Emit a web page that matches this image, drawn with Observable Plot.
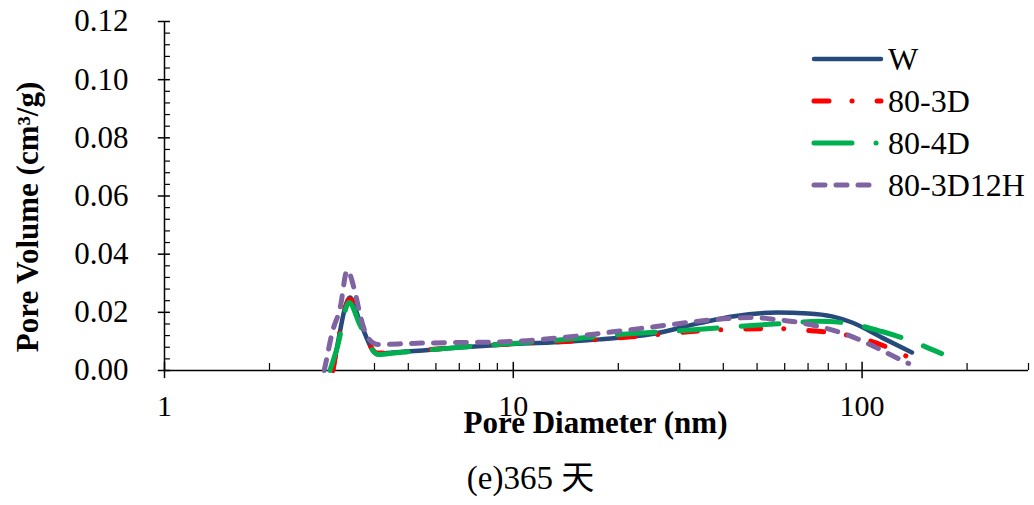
<!DOCTYPE html>
<html><head><meta charset="utf-8">
<script src="https://cdn.jsdelivr.net/npm/d3@7"></script>
<script src="https://cdn.jsdelivr.net/npm/@observablehq/plot@0.6"></script>
<style>
html,body{margin:0;padding:0;background:#fff;}
#chart{position:relative;width:1034px;height:505px;}
</style></head><body><div id="chart"></div>
<script>
// ---- data ----
const seriesNames = ["W", "80-3D", "80-4D", "80-3D12H"];
const seriesColors = ["#264A7C", "#FF0000", "#00B050", "#8064A2"];

const diamW = [3.04, 3.13, 3.40, 3.64, 4.07, 4.52, 5.5, 6.8, 10, 14.2, 17.7, 25, 34.2, 42.5, 57, 70, 82, 93.6, 114, 139];
const volW  = [0, 0.0086, 0.0251, 0.0165, 0.0058, 0.0062, 0.0069, 0.0078, 0.0091, 0.0099, 0.0107, 0.0125, 0.0163, 0.0186, 0.0199, 0.0196, 0.0186, 0.0165, 0.0113, 0.0062];

const diam3D = [3.04, 3.13, 3.40, 3.64, 4.07, 4.52, 6.8, 10.2, 15.7, 23, 38.5, 57, 69.6, 84.3, 104.7, 127.6, 136];
const vol3D  = [0, 0.0086, 0.0245, 0.0165, 0.0060, 0.0062, 0.0079, 0.0093, 0.0103, 0.0118, 0.0140, 0.0144, 0.0138, 0.0128, 0.0103, 0.0062, 0.0045];

const diam4D = [2.98, 3.13, 3.38, 3.64, 4.10, 4.73, 8.18, 13, 22, 31.4, 48.4, 60.6, 75.4, 87.7, 114, 132, 169];
const vol4D  = [0, 0.0080, 0.0234, 0.0155, 0.0055, 0.0062, 0.0086, 0.0103, 0.0127, 0.0138, 0.0155, 0.0162, 0.0169, 0.0165, 0.0134, 0.0110, 0.0058];

const diam3D12H = [2.87, 2.91, 3.02, 3.19, 3.34, 3.52, 3.64, 3.83, 4.10, 5.06, 10, 14.8, 23, 41.6, 48.4, 56.8, 66.1, 77, 90, 102.6, 117, 136];
const vol3D12H  = [0, 0.0034, 0.0127, 0.0217, 0.0344, 0.0268, 0.019, 0.0113, 0.0089, 0.0093, 0.0100, 0.0117, 0.0144, 0.0179, 0.0182, 0.0175, 0.0165, 0.0148, 0.0124, 0.0096, 0.0062, 0.0024];

const xMajorTicks = [1, 10, 100];
const xMajorLabels = ["1", "10", "100"];
const xMinorTicks = [2, 3, 4, 5, 6, 7, 8, 9, 20, 30, 40, 50, 60, 70, 80, 90, 200, 300];
const yMajorTicks = [0, 0.02, 0.04, 0.06, 0.08, 0.10, 0.12];
const yMinorTicks = [0.004, 0.008, 0.012, 0.016, 0.024, 0.028, 0.032, 0.036, 0.044, 0.048, 0.052, 0.056,
                     0.064, 0.068, 0.072, 0.076, 0.084, 0.088, 0.092, 0.096, 0.104, 0.108, 0.112, 0.116];

const xTitle = "Pore Diameter (nm)";
const yTitle = "Pore Volume (cm\u00B3/g)";
const caption = "(e)365 天";

// ---- build tables ----
const diams = [diamW, diam3D, diam4D, diam3D12H];
const vols = [volW, vol3D, vol4D, vol3D12H];
const tables = diams.map((ds, i) => ds.map((d, j) => ({series: seriesNames[i], d, v: vols[i][j]})));

const dashes = [null, "15,23,0.1,25", "38,24", "11,11"];
const legendDashes = [null, "15,23,0.1,25", "38,24,0.1,100", "11,11"];
const legendEnds = [881, 881, 881, 869];
const widths = [4.5, 5, 5, 5];

const serif = "'Liberation Serif', 'Times New Roman', 'Noto Sans CJK TC', serif";

const lineMarks = tables.map((t, i) => Plot.line(t, {
  x: "d", y: "v", stroke: seriesColors[i], strokeWidth: widths[i],
  strokeDasharray: dashes[i], strokeLinecap: "round", strokeLinejoin: "round",
  curve: "monotone-x"
}));

const chart = Plot.plot({
  width: 1034,
  height: 505,
  marginLeft: 164,
  marginRight: 6,
  marginTop: 21,
  marginBottom: 135,
  style: {fontFamily: serif, background: "#fff", color: "#000"},
  x: {type: "log", domain: [1, 300], axis: null},
  y: {domain: [0, 0.12], axis: null},
  marks: [
    // axis lines
    Plot.ruleX([1], {y1: 0, y2: 0.12, stroke: "#000", strokeWidth: 1.5}),
    Plot.ruleY([0], {x1: 1, x2: 300, stroke: "#000", strokeWidth: 1.5}),
    // y ticks
    Plot.ruleY(yMajorTicks, {y: d => d, x1: 0.96, x2: 1.04, stroke: "#000", strokeWidth: 1.5}),
    Plot.ruleY(yMinorTicks, {y: d => d, x1: 1, x2: 1.04, stroke: "#000", strokeWidth: 1.2}),
    // x ticks
    Plot.ruleX(xMajorTicks, {x: d => d, y1: -0.0028, y2: 0.0028, stroke: "#000", strokeWidth: 1.5}),
    Plot.ruleX(xMinorTicks, {x: d => d, y1: 0, y2: 0.0024, stroke: "#000", strokeWidth: 1.2}),
    // tick labels
    Plot.text(yMajorTicks, {x: 1, y: d => d, text: d => d.toFixed(2), textAnchor: "end", dx: -36, fontSize: 31, fill: "#000"}),
    Plot.text(xMajorTicks, {x: d => d, y: 0, text: (d, i) => xMajorLabels[i], dy: 36, fontSize: 30, fill: "#000"}),
    // series
    ...lineMarks,
    // titles
    Plot.text([xTitle], {frameAnchor: "bottom", lineAnchor: "middle", text: d => d, dy: 53, dx: -1, fontSize: 31, fontWeight: "bold", fill: "#000"}),
    Plot.text([caption], {frameAnchor: "bottom", lineAnchor: "middle", text: d => d, dy: 108, dx: -66, fontSize: 33, fill: "#000"})
  ]
});

const svg = d3.select(chart);

// ---- y-axis title ----
svg.append("text")
  .attr("transform", "translate(27,217) rotate(-90)")
  .attr("text-anchor", "middle")
  .attr("dy", "0.35em")
  .attr("font-family", serif)
  .attr("font-size", 31)
  .attr("font-weight", "bold")
  .attr("fill", "#000")
  .text(yTitle);

// ---- legend ----
const lg = svg.append("g").attr("font-family", serif).attr("font-size", 32).attr("text-anchor", "start");
const legendY = [59, 101, 143, 185];
seriesNames.forEach((name, i) => {
  lg.append("line").attr("x1", 814).attr("x2", legendEnds[i]).attr("y1", legendY[i]).attr("y2", legendY[i])
    .attr("stroke", seriesColors[i]).attr("stroke-width", widths[i])
    .attr("stroke-linecap", "round")
    .attr("stroke-dasharray", legendDashes[i]);
  lg.append("text").attr("x", 888).attr("y", legendY[i]).attr("dy", "0.35em").attr("fill", "#000").text(name);
});

document.getElementById("chart").appendChild(chart);
</script>
</body></html>
